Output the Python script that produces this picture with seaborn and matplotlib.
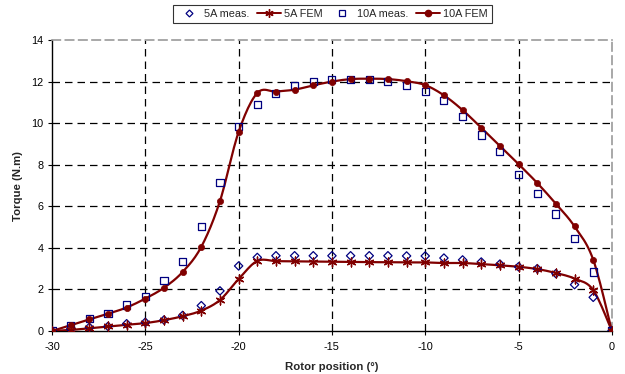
import numpy as np
import pandas as pd
import matplotlib
matplotlib.use("Agg")
import matplotlib.pyplot as plt
from matplotlib.lines import Line2D
import seaborn as sns

# ---- data ----
positions = list(range(-30, 1))
meas_5A = [0, 0.10, 0.18, 0.22, 0.35, 0.42, 0.53, 0.75, 1.22, 1.93,
           3.13, 3.54, 3.62, 3.62, 3.62, 3.62, 3.62, 3.62, 3.62, 3.61,
           3.61, 3.51, 3.42, 3.32, 3.22, 3.09, 3.00, 2.76, 2.23, 1.62, 0]
fem_5A = [0, 0.05, 0.13, 0.22, 0.30, 0.38, 0.52, 0.71, 0.98, 1.49,
          2.50, 3.37, 3.36, 3.35, 3.34, 3.33, 3.32, 3.31, 3.31, 3.30,
          3.30, 3.27, 3.27, 3.22, 3.16, 3.09, 2.98, 2.79, 2.52, 1.97, 0]
meas_10A = [0, 0.25, 0.58, 0.86, 1.25, 1.65, 2.43, 3.33, 5.03, 7.13,
            9.84, 10.90, 11.42, 11.82, 12.00, 12.12, 12.12, 12.12, 12.00, 11.80,
            11.51, 11.11, 10.34, 9.43, 8.62, 7.54, 6.62, 5.63, 4.43, 2.84, 0]
fem_10A = [0, 0.28, 0.56, 0.83, 1.13, 1.56, 2.08, 2.84, 4.05, 6.25,
           9.58, 11.45, 11.52, 11.61, 11.82, 12.00, 12.12, 12.14, 12.12, 12.02,
           11.83, 11.34, 10.63, 9.78, 8.91, 8.03, 7.12, 6.12, 5.03, 3.43, 0]
x_ticks = [-30, -25, -20, -15, -10, -5, 0]
y_ticks = [0, 2, 4, 6, 8, 10, 12, 14]

RED = "#800000"
NAVY = "#000080"


def smooth(xs, ys, n=12):
    """Catmull-Rom style smoothing (like a spreadsheet 'smoothed line')."""
    xs = np.asarray(xs, float)
    ys = np.asarray(ys, float)
    px = np.concatenate([[xs[0]], xs, [xs[-1]]])
    py = np.concatenate([[ys[0]], ys, [ys[-1]]])
    ox, oy = [], []
    t = np.linspace(0, 1, n, endpoint=False)
    for i in range(1, len(px) - 2):
        for P, out in ((px, ox), (py, oy)):
            p0, p1, p2, p3 = P[i - 1], P[i], P[i + 1], P[i + 2]
            b1 = p1 + (p2 - p0) / 6.0
            b2 = p2 - (p3 - p1) / 6.0
            out.extend((1 - t) ** 3 * p1 + 3 * (1 - t) ** 2 * t * b1
                       + 3 * (1 - t) * t ** 2 * b2 + t ** 3 * p2)
    ox.append(xs[-1]); oy.append(ys[-1])
    return np.array(ox), np.array(oy)


sns.set_theme(style="white")
plt.rcParams["font.family"] = ["Liberation Sans", "DejaVu Sans"]

fig = plt.figure(figsize=(6.25, 3.74), dpi=100)
ax = fig.add_axes([0.0832, 0.115, 0.8958, 0.778])

# grid
for gx in x_ticks[1:-1]:
    ax.axvline(gx, color="black", lw=0.9, ls=(0, (6, 4)), zorder=1)
for gy in y_ticks[1:-1]:
    ax.axhline(gy, color="black", lw=0.9, ls=(0, (6, 4)), zorder=1)

# smoothed FEM lines
for ys in (fem_5A, fem_10A):
    sx, sy = smooth(positions, ys)
    sns.lineplot(x=sx, y=sy, sort=False, estimator=None, color=RED,
                 lw=1.6, ax=ax, zorder=3)

df = pd.DataFrame({"x": positions, "m5": meas_5A, "f5": fem_5A,
                   "m10": meas_10A, "f10": fem_10A})
sns.scatterplot(data=df, x="x", y="m5", marker="D", s=18, facecolor="none",
                edgecolor=NAVY, linewidth=0.9, ax=ax, zorder=4)
sns.scatterplot(data=df, x="x", y="m10", marker="s", s=26, facecolor="none",
                edgecolor=NAVY, linewidth=0.9, ax=ax, zorder=4)
sns.scatterplot(data=df, x="x", y="f5", marker=(6, 2, 0), s=40, color=RED,
                linewidth=1.0, ax=ax, zorder=5)
sns.scatterplot(data=df, x="x", y="f10", marker="o", s=20, color=RED,
                edgecolor=RED, linewidth=0.5, ax=ax, zorder=5)

ax.set_xlim(-30, 0)
ax.set_ylim(0, 14)
ax.set_xticks(x_ticks)
ax.set_yticks(y_ticks)
ax.set_xticklabels([str(v) for v in x_ticks])
ax.set_yticklabels([str(v) for v in y_ticks])
ax.tick_params(axis="both", labelsize=7.8, colors="black", length=3,
               width=0.8, direction="out", bottom=True, left=True)
ax.tick_params(axis="x", pad=5)
ax.tick_params(axis="y", pad=3)
ax.set_xlabel("Rotor position (°)", fontsize=8.2, fontweight="bold", labelpad=7)
ax.set_ylabel("Torque (N.m)", fontsize=8.2, fontweight="bold", labelpad=6)

for side in ("left", "bottom"):
    ax.spines[side].set_color("black")
    ax.spines[side].set_linewidth(1.0)
for side in ("top", "right"):
    ax.spines[side].set_color("#9a9a9a")
    ax.spines[side].set_linewidth(1.2)
    ax.spines[side].set_linestyle((0, (5, 3)))
ax.set_facecolor("white")

handles = [
    Line2D([], [], ls="none", marker="D", ms=3.5, mfc="none", mec=NAVY, mew=0.9),
    Line2D([], [], color=RED, lw=1.4, marker=(6, 2, 0), ms=6, mec=RED),
    Line2D([], [], ls="none", marker="s", ms=4.5, mfc="none", mec=NAVY, mew=0.9),
    Line2D([], [], color=RED, lw=1.4, marker="o", ms=4.5, mfc=RED, mec=RED),
]
labels = ["5A meas.", "5A FEM", "10A meas.", "10A FEM"]
leg = fig.legend(handles, labels, loc="center", bbox_to_anchor=(0.532, 0.962),
                 ncol=4, fontsize=7.8, frameon=True, fancybox=False,
                 edgecolor="black", handlelength=2.2, handletextpad=0.3,
                 columnspacing=0.7, borderpad=0.35)
leg.get_frame().set_linewidth(0.8)

fig.savefig("out.png", dpi=100, facecolor="white")
